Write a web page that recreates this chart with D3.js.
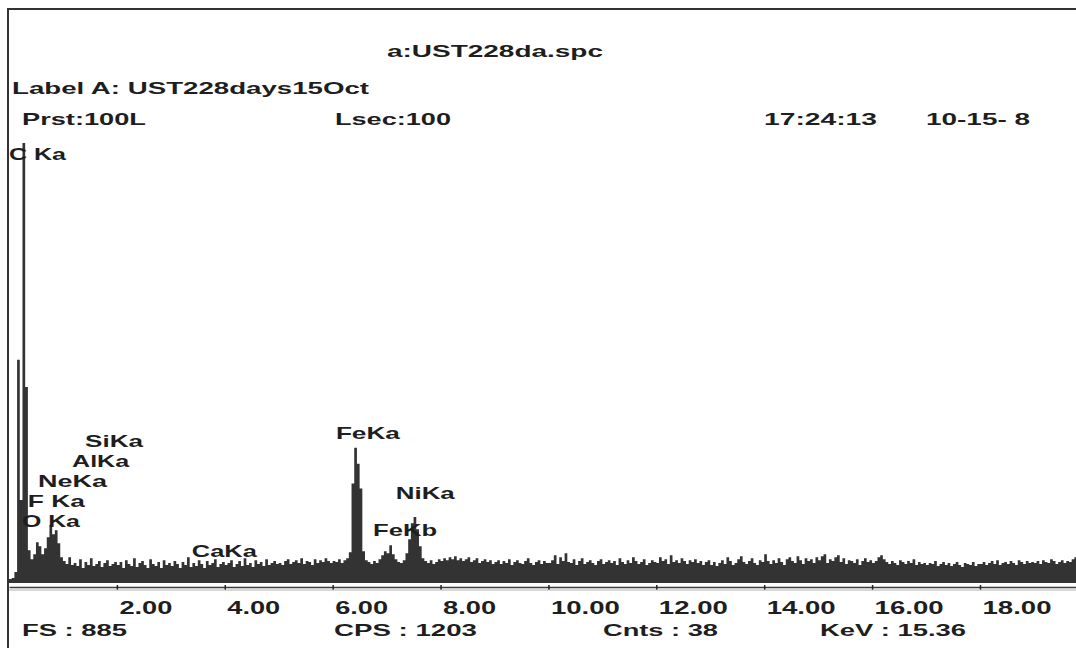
<!DOCTYPE html>
<html>
<head>
<meta charset="utf-8">
<script src="https://cdn.jsdelivr.net/npm/d3@7"></script>
<style>
body { margin: 0; background: #fff; }
svg { display: block; }
text { white-space: pre; }
</style>
</head>
<body>
<svg width="1076" height="648"></svg>
<script>
// EDS spectrum, 0.05 keV per channel
var channelWidth = 0.05;
var counts = [
	8,10,22,449,167,885,394,66,48,58,82,74,58,70,92,117,98,106,80,52,
	44,38,52,36,40,34,48,30,42,36,50,34,38,44,32,40,46,34,38,42,
	36,42,30,46,38,34,50,32,40,44,36,30,48,38,34,42,30,46,36,40,
	34,44,38,30,42,36,52,32,40,34,46,38,30,44,36,40,48,32,38,42,
	36,40,46,32,38,44,34,50,36,40,32,46,38,42,34,48,36,40,44,38,
	40,36,44,48,38,42,46,40,50,38,44,42,36,48,40,46,42,50,44,40,
	44,42,48,40,46,50,62,200,272,240,190,64,46,42,38,44,40,48,56,64,
	60,76,58,48,42,40,46,60,88,120,133,108,74,50,44,40,46,38,42,48,
	44,50,46,52,48,54,46,50,44,48,52,42,46,50,40,44,48,42,46,38,
	42,46,38,44,40,48,36,42,46,40,38,44,50,40,36,42,46,38,44,40,
	40,46,56,38,52,44,60,42,40,48,36,44,50,38,42,46,40,36,44,48,
	38,42,46,40,44,36,50,42,38,46,40,52,44,38,42,48,36,40,46,42,
	40,52,44,48,38,56,42,46,40,50,44,38,46,42,48,40,44,36,42,46,
	36,42,34,40,46,38,52,44,36,40,48,54,42,38,44,50,40,36,46,42,
	58,44,38,46,40,50,42,36,48,52,44,40,54,46,38,50,44,48,40,52,
	46,54,58,40,48,44,52,56,42,50,38,46,44,40,48,36,44,50,42,46,
	40,44,52,56,48,42,38,44,40,36,46,42,38,44,40,48,36,42,38,40,
	36,40,38,44,34,38,42,36,40,34,38,42,36,32,40,38,36,42,34,38,
	38,42,36,40,44,38,46,36,40,42,38,44,40,36,46,42,38,44,40,42,
	40,44,38,46,42,40,48,44,38,42,46,40,44,42,48,52
];

// peak labels: name, anchor energy (keV), anchor height (counts)
var peakNames  = ["C Ka", "O Ka", "F Ka", "NeKa", "AlKa", "SiKa", "CaKa", "FeKa", "FeKb", "NiKa"];
var peakKeV    = [0.0, 0.24, 0.35, 0.54, 1.17, 1.41, 3.39, 6.06, 6.75, 7.17];
var peakCounts = [851, 113, 153, 193, 233, 274, 52, 290, 95, 169];

var tickValues = [2, 4, 6, 8, 10, 12, 14, 16, 18];
var headerTexts = ["a:UST228da.spc", "Label A: UST228days15Oct", "Prst:100L", "Lsec:100", "17:24:13", "10-15- 8"];
var footerTexts = ["FS : 885", "CPS : 1203", "Cnts : 38", "KeV : 15.36"];

var svg = d3.select("svg"),
	width = +svg.attr("width"),
	height = +svg.attr("height");

var FONT = "'Liberation Sans', Arial, sans-serif";
var INK = "#1e1e1e";

var x = d3.scaleLinear().domain([0, 19.78]).range([9, 1076]);
var y = d3.scaleLinear().domain([0, 885]).range([583, 143]);

// frame
svg.append("line").attr("x1", 7).attr("x2", width).attr("y1", 9).attr("y2", 9)
	.attr("stroke", "#333").attr("stroke-width", 2);
svg.append("line").attr("x1", 8).attr("x2", 8).attr("y1", 8).attr("y2", height)
	.attr("stroke", "#333").attr("stroke-width", 2);

// spectrum
var pts = counts.map(function(c, i) { return { e: i * channelWidth, c: c }; });
pts.push({ e: counts.length * channelWidth, c: counts[counts.length - 1] });

var area = d3.area()
	.curve(d3.curveStepAfter)
	.x(function(d) { return x(d.e); })
	.y0(y(0))
	.y1(function(d) { return y(d.c); });

svg.append("path")
	.datum(pts)
	.attr("d", area)
	.attr("fill", "#333");

// axis
var axis = d3.axisBottom(x)
	.tickValues(tickValues)
	.tickSizeInner(3)
	.tickSizeOuter(0)
	.tickFormat(d3.format(".2f"));

var gAxis = svg.append("g")
	.attr("transform", "translate(0,587)")
	.attr("font-family", null)
	.attr("font-size", null)
	.call(axis);

gAxis.select(".domain").attr("stroke", "#3a3a3a").attr("stroke-width", 1.5);
gAxis.selectAll(".tick line").attr("y1", -2).attr("y2", 3).attr("stroke", "#222").attr("stroke-width", 1.5);
gAxis.selectAll(".tick text")
	.attr("x", 2)
	.attr("y", 27)
	.attr("dy", null)
	.attr("text-anchor", "start")
	.attr("fill", INK)
	.style("font-family", FONT)
	.style("font-weight", "bold")
	.style("font-size", "18px")
	.attr("textLength", function(d) { return d >= 10 ? 69 : 53; })
	.attr("lengthAdjust", "spacingAndGlyphs");

svg.append("line").attr("x1", 9).attr("x2", width).attr("y1", 590).attr("y2", 590)
	.attr("stroke", "#b0b0b0").attr("stroke-width", 1);

// text helper
function addText(str, px, py, len, size) {
	svg.append("text")
		.attr("x", px)
		.attr("y", py)
		.attr("fill", INK)
		.style("font-family", FONT)
		.style("font-weight", "bold")
		.style("font-size", size + "px")
		.attr("textLength", len)
		.attr("lengthAdjust", "spacingAndGlyphs")
		.text(str);
}

// header
var headerPos = [[387, 57, 216], [12, 94, 357], [22, 125, 124], [335, 125, 116], [764, 125, 113], [926, 125, 104]];
headerTexts.forEach(function(t, i) {
	addText(t, headerPos[i][0], headerPos[i][1], headerPos[i][2], 17);
});

// footer
var footerPos = [[22, 636, 105], [334, 636, 143], [603, 636, 115], [820, 636, 146]];
footerTexts.forEach(function(t, i) {
	addText(t, footerPos[i][0], footerPos[i][1], footerPos[i][2], 17);
});

// peak labels
var peakLen = [57, 58, 57, 69, 57, 58, 65, 64, 64, 59];
peakNames.forEach(function(t, i) {
	addText(t, x(peakKeV[i]), y(peakCounts[i]), peakLen[i], 17);
});
</script>
</body>
</html>
